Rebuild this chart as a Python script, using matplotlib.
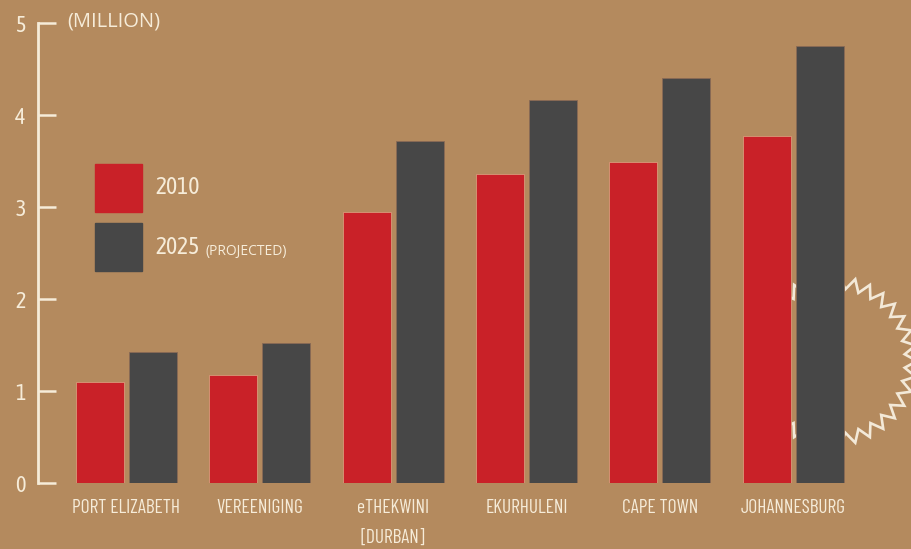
import numpy as np
import matplotlib
matplotlib.use("Agg")
import matplotlib.pyplot as plt
from matplotlib import font_manager

cities = ["PORT ELIZABETH", "VEREENIGING", "eTHEKWINI\n[DURBAN]", "EKURHULENI", "CAPE TOWN", "JOHANNESBURG"]
pop_2010 = [1.10, 1.17, 2.95, 3.36, 3.49, 3.77]
pop_2025 = [1.42, 1.52, 3.72, 4.16, 4.40, 4.75]
yticks = [0, 1, 2, 3, 4, 5]

BG = "#b48a5e"
RED = "#c92128"
GRAY = "#474747"
CREAM = "#f6ecd9"

names = {f.name for f in font_manager.fontManager.ttflist}


def pick(options):
    for o in options:
        if o in names:
            return o
    return "DejaVu Sans"


fam = pick(["Asap Condensed", "Barlow Semi Condensed", "Archivo Narrow"])
narrow = pick(["Barlow Condensed", "Asap Condensed", "Archivo Narrow"])
wide = pick(["Open Sans", "Noto Sans", "DejaVu Sans"])
plt.rcParams["font.family"] = [fam, "DejaVu Sans"]
plt.rcParams["font.weight"] = "normal"

W, H = 911, 549
fig = plt.figure(figsize=(W / 100, H / 100), dpi=100, facecolor=BG)

# background decoration axes (pixel coords)
bg = fig.add_axes([0, 0, 1, 1], zorder=0)
bg.set_xlim(0, W)
bg.set_ylim(H, 0)
bg.axis("off")
n_teeth = 34
ang = np.linspace(0, 2 * np.pi, 2 * n_teeth + 1)
rad = np.where(np.arange(2 * n_teeth + 1) % 2 == 0, 85, 73)
cx, cy = 832, 361
bg.plot(cx + rad * np.cos(ang), cy + rad * np.sin(ang), color="#f3e9d8", lw=1.9,
        solid_joinstyle="miter")

# main axes
x0, x1 = 38, 911
ytop, ybot = 23, 483
ax = fig.add_axes([x0 / W, (H - ybot) / H, (x1 - x0) / W, (ybot - ytop) / H], zorder=1)
ax.set_facecolor("none")

pitch = 133.3
xmin = -(126.5 - x0) / pitch
xmax = xmin + (x1 - x0) / pitch
x = np.arange(len(cities))
bw = 48 / pitch
off = (48 + 5) / 2 / pitch
ax.bar(x - off, pop_2010, bw, color=RED, edgecolor="#d99a7a", linewidth=0.6, label="2010", zorder=3)
ax.bar(x + off, pop_2025, bw, color=GRAY, edgecolor="#8a6a55", linewidth=0.6, label="2025", zorder=3)
ax.set_xlim(xmin, xmax)
ax.set_ylim(0, 5)

for s in ["top", "right", "bottom"]:
    ax.spines[s].set_visible(False)
ax.spines["left"].set_color(CREAM)
ax.spines["left"].set_linewidth(2.0)

ax.set_yticks(yticks)
ax.set_yticklabels([str(v) for v in yticks])
ax.tick_params(axis="y", direction="in", length=13, width=1.8, color=CREAM,
               labelcolor=CREAM, labelsize=16, pad=9)
ax.set_xticks(x)
ax.set_xticklabels(cities, linespacing=1.85, family=[narrow, "DejaVu Sans"])
ax.tick_params(axis="x", length=0, labelcolor=CREAM, labelsize=14, pad=11.5)

ax.text(67 / W, (H - 22) / H, "(MILLION)", transform=fig.transFigure, color=CREAM,
        fontsize=14.5, ha="left", va="center", family=[wide, "DejaVu Sans"])

# legend
bg.add_patch(plt.Rectangle((95, 164), 47, 48, color=RED))
bg.add_patch(plt.Rectangle((95, 223), 47, 48, color=GRAY))
bg.text(155, 188, "2010", color=CREAM, fontsize=17, ha="left", va="center")
bg.text(155, 248, "2025", color=CREAM, fontsize=17, ha="left", va="center")
bg.text(206, 251, "(PROJECTED)", color=CREAM, fontsize=10, ha="left", va="center",
        family=[wide, "DejaVu Sans"])

fig.savefig("out.png", dpi=100, facecolor=BG)
